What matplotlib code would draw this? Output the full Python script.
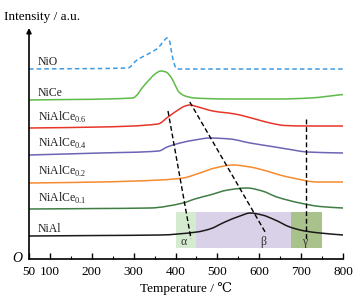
import numpy as np
import matplotlib
matplotlib.use("Agg")
import matplotlib.pyplot as plt
from matplotlib.path import Path
from matplotlib.patches import PathPatch

plt.rcParams['font.family'] = ['Liberation Serif', 'DejaVu Serif']
plt.rcParams['mathtext.fontset'] = 'custom'
plt.rcParams['mathtext.rm'] = 'Liberation Serif'

# TPR curves, temperature (C) and intensity (offset, a.u.)
t_nio = [50, 286, 308, 339, 358, 370, 380, 385, 390, 397, 403, 800]
i_nio = [190, 191, 199, 206, 211, 217, 221, 219, 208, 195, 190, 190]

t_nice = [50, 298, 308, 320, 339, 351, 365, 377, 389, 399, 408, 423, 446, 530, 650, 721, 800]
i_nice = [159, 161, 164, 171, 180, 185, 188, 187, 182, 174, 167, 163, 161, 160, 160, 161, 164.5]

t_06 = [50, 220, 358, 382, 406, 423, 434, 454, 489, 542, 590, 626, 661, 714, 800]
i_06 = [131, 132, 135, 142, 149, 153, 154, 152, 148, 145, 140, 136, 133.5, 133, 133]

t_04 = [50, 220, 360, 380, 411, 446, 482, 530, 578, 638, 681, 714, 800]
i_04 = [104, 106, 108, 112, 116, 119, 121, 120, 116, 112, 109, 107, 106]

t_02 = [50, 220, 363, 418, 458, 494, 537, 578, 618, 649, 680, 738, 800]
i_02 = [76, 77, 79, 81, 86, 91, 94, 92, 88, 84, 81, 77, 77]

t_01 = [50, 220, 339, 418, 446, 482, 525, 571, 607, 642, 697, 745, 800]
i_01 = [50, 50.5, 51, 56, 60, 64, 69, 71, 68, 62, 56, 52.5, 51]

t_al = [50, 220, 363, 451, 482, 518, 554, 578, 607, 638, 673, 709, 745, 800]
i_al = [23, 23.5, 24, 27, 30, 37, 43, 46, 44, 39, 32, 28, 26, 24]

# peak shift guide lines
guide_t = [[382, 437], [434, 614], [711, 711]]
guide_i = [[148, 20], [157, 27], [140, 19]]

# reduction regions
regions = [(400, 450, '#d4ebcf', '\u03b1', 420),
           (450, 675, '#d9d1e7', '\u03b2', 609),
           (675, 750, '#a9c28b', '\u03b3', 709)]
region_lo, region_hi = 11, 47


def smooth_path(x, y):
    # cubic Hermite through the read points, drawn as Bezier segments
    x = np.asarray(x, float)
    y = np.asarray(y, float)
    d = np.diff(y) / np.diff(x)
    m = np.zeros_like(y)
    m[0], m[-1] = d[0], d[-1]
    for k in range(1, len(x) - 1):
        if d[k - 1] * d[k] <= 0:
            m[k] = 0
        else:
            w1 = 2 * (x[k + 1] - x[k]) + (x[k] - x[k - 1])
            w2 = (x[k + 1] - x[k]) + 2 * (x[k] - x[k - 1])
            m[k] = (w1 + w2) / (w1 / d[k - 1] + w2 / d[k])
    verts = [(x[0], y[0])]
    codes = [Path.MOVETO]
    for k in range(len(x) - 1):
        h = x[k + 1] - x[k]
        verts += [(x[k] + h / 3, y[k] + m[k] * h / 3),
                  (x[k + 1] - h / 3, y[k + 1] - m[k + 1] * h / 3),
                  (x[k + 1], y[k + 1])]
        codes += [Path.CURVE4] * 3
    return Path(verts, codes)


fig = plt.figure(figsize=(3.61, 3.07), dpi=100)
ax = fig.add_axes([29/361, 48/307, 314/361, 231/307])

for lo, hi, col, lab, xt in regions:
    ax.fill_between([lo, hi], region_lo, region_hi, color=col, lw=0, zorder=1)
    ax.text(xt, 17, lab, ha='center', va='center', fontsize=8.5, color='#333333', zorder=5)

curves = [(t_nio, i_nio, '#3d9be3', (0, (3, 2))),
          (t_nice, i_nice, '#5dbb46', '-'),
          (t_06, i_06, '#e8352b', '-'),
          (t_04, i_04, '#6c64b5', '-'),
          (t_02, i_02, '#f58a2e', '-'),
          (t_01, i_01, '#3f7d44', '-'),
          (t_al, i_al, '#1a1a1a', '-')]
for tx, iy, col, ls in curves:
    ax.add_patch(PathPatch(smooth_path(tx, iy), fill=False, edgecolor=col,
                           lw=1.1, ls=ls, zorder=3))

for gt, gi in zip(guide_t, guide_i):
    ax.plot(gt, gi, color='black', lw=1.0, ls=(0, (3.5, 2)), zorder=4)

names = ['NiO', 'NiCe', r'NiAlCe$_{0.6}$', r'NiAlCe$_{0.4}$',
         r'NiAlCe$_{0.2}$', r'NiAlCe$_{0.1}$', 'NiAl']
name_y = [194, 163, 138, 112, 84, 57, 27]
for nm, ny in zip(names, name_y):
    ax.text(71, ny, nm, fontsize=8.5, va='baseline', ha='left', color='#222222')

ax.set_xlim(50, 800)
ax.set_ylim(0, 231)
ax.set_xticks([50, 100, 200, 300, 400, 500, 600, 700, 800])
ax.set_xticks(np.arange(150, 800, 100), minor=True)
ax.tick_params(axis='x', which='major', direction='in', length=4, width=1, pad=5, labelsize=9.5)
ax.tick_params(axis='x', which='minor', direction='in', length=2, width=0.8)
ax.set_yticks([])
for s in ['top', 'right', 'left']:
    ax.spines[s].set_visible(False)
ax.spines['bottom'].set_linewidth(1.2)
ax.annotate('', xy=(50, 231), xytext=(50, 0), xycoords='data',
            arrowprops=dict(arrowstyle='-|>', color='black', lw=1.2,
                            mutation_scale=7, shrinkA=0, shrinkB=0),
            annotation_clip=False)

ax.set_xlabel('Temperature / \u2103', fontsize=9.5, labelpad=3)
fig.text(4/361, 1 - 17/307, 'Intensity / a.u.', fontsize=9.5, va='center', ha='left')
fig.text(17/361, 1 - 258/307, 'O', fontsize=10, style='italic', va='center', ha='center')

fig.savefig('out.png', dpi=100)
